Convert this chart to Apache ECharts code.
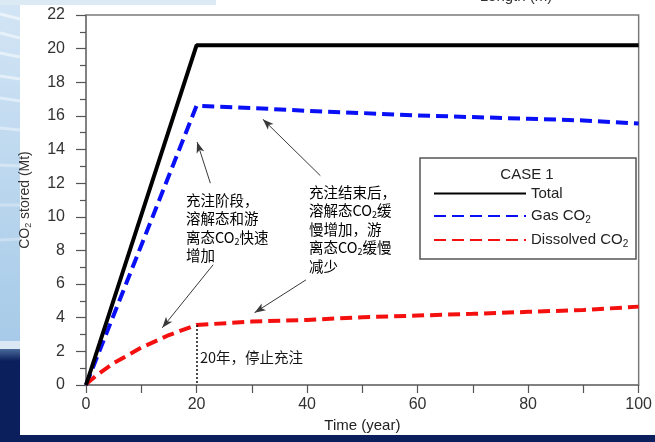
<!DOCTYPE html>
<html>
<head>
<meta charset="utf-8">
<script src="https://cdn.jsdelivr.net/npm/echarts@6/dist/echarts.min.js"></script>
<style>
  html, body { margin: 0; padding: 0; background: #0b1f5c; }
  #chart { width: 655px; height: 442px; }
</style>
</head>
<body>
<div id="chart"></div>
<script>
// CO2 stored in the reservoir over time (CASE 1)
const totalYears = [0, 20, 100];
const totalValues = [0, 20.2, 20.2];

const gasYears = [0, 20, 30, 40, 50, 60, 70, 80, 90, 100];
const gasValues = [0, 16.6, 16.47, 16.3, 16.17, 16.03, 15.93, 15.83, 15.73, 15.55];

const dissolvedYears = [0, 2, 5, 10, 15, 20, 30, 40, 50, 60, 70, 80, 90, 100];
const dissolvedValues = [0.05, 0.6, 1.3, 2.22, 2.97, 3.57, 3.77, 3.87, 4.03, 4.13, 4.23, 4.35, 4.46, 4.66];

const seriesNames = ['Total', 'Gas CO2', 'Dissolved CO2'];

// injection stops at year 20
const stopYear = 20;

// annotation arrows in data units: [fromYear, fromValue, toYear, toValue]
const arrows = [
  [22.5, 12.0, 20.1, 14.45],
  [23.0, 7.15, 13.8, 3.4],
  [42.4, 12.45, 32.0, 15.8],
  [39.8, 6.25, 30.5, 4.3]
];

const pair = (xs, ys) => xs.map((x, i) => [x, ys[i]]);

const dissolvedAtStop = dissolvedValues[dissolvedYears.indexOf(stopYear)];

const arrowLines = arrows.map(a => [
  { coord: [a[0], a[1]], symbol: 'none' },
  { coord: [a[2], a[3]], symbol: 'arrow', symbolSize: [6, 11] }
]);
const stopLine = [
  { coord: [stopYear, dissolvedAtStop], symbol: 'none',
    lineStyle: { type: [2, 2], color: '#111', width: 1.5 } },
  { coord: [stopYear, 0], symbol: 'none' }
];

const subRich = {
  a: { fontSize: 14.5, fontFamily: 'Noto Sans CJK SC', color: '#151515', lineHeight: 18.5 },
  s: { fontSize: 9, fontFamily: 'Noto Sans CJK SC', color: '#151515', lineHeight: 18.5, padding: [8, 0, 0, 0] }
};

const chart = echarts.init(document.getElementById('chart'), null, { renderer: 'canvas' });

chart.setOption({
  animation: false,
  backgroundColor: '#0b1f5c',
  graphic: [
    // slide background strips
    { type: 'rect', z: -10, shape: { x: 0, y: 0, width: 20, height: 345 },
      style: { fill: new echarts.graphic.LinearGradient(0, 0, 0, 1, [
        { offset: 0, color: '#d3e5f5' }, { offset: 1, color: '#a6cae8' }]) } },
    { type: 'rect', z: -10, shape: { x: 0, y: 341, width: 20, height: 9 },
      style: { fill: '#dbe8f3' } },
    { type: 'rect', z: -10, shape: { x: 0, y: 349, width: 20, height: 12 },
      style: { fill: new echarts.graphic.LinearGradient(0, 0, 0, 1, [
        { offset: 0, color: '#4a6a9a' }, { offset: 1, color: '#0b1f5c' }]) } },
    { type: 'rect', z: -10, shape: { x: 0, y: 0, width: 216, height: 5 },
      style: { fill: '#dceaf6' } },
    { type: 'line', z: -9, shape: { x1: 0, y1: 14, x2: 20, y2: 19 }, style: { stroke: 'rgba(255,255,255,0.55)', lineWidth: 3 } },
    { type: 'line', z: -9, shape: { x1: 0, y1: 33, x2: 20, y2: 38 }, style: { stroke: 'rgba(255,255,255,0.5)', lineWidth: 3 } },
    { type: 'line', z: -9, shape: { x1: 0, y1: 53, x2: 20, y2: 57 }, style: { stroke: 'rgba(255,255,255,0.5)', lineWidth: 3 } },
    { type: 'line', z: -9, shape: { x1: 0, y1: 76, x2: 20, y2: 79 }, style: { stroke: 'rgba(255,255,255,0.5)', lineWidth: 3 } },
    { type: 'line', z: -9, shape: { x1: 0, y1: 98, x2: 20, y2: 101 }, style: { stroke: 'rgba(255,255,255,0.45)', lineWidth: 3 } },
    { type: 'line', z: -9, shape: { x1: 0, y1: 128, x2: 20, y2: 130 }, style: { stroke: 'rgba(255,255,255,0.4)', lineWidth: 3 } },
    { type: 'line', z: -9, shape: { x1: 0, y1: 165, x2: 20, y2: 166 }, style: { stroke: 'rgba(255,255,255,0.35)', lineWidth: 3 } },
    { type: 'line', z: -9, shape: { x1: 0, y1: 205, x2: 20, y2: 205 }, style: { stroke: 'rgba(255,255,255,0.3)', lineWidth: 3 } },
    { type: 'line', z: -9, shape: { x1: 0, y1: 240, x2: 20, y2: 239 }, style: { stroke: 'rgba(255,255,255,0.3)', lineWidth: 3 } },
    // white figure panel
    { type: 'rect', z: -8, shape: { x: 20, y: 5, width: 635, height: 430 }, style: { fill: '#ffffff' } },
    { type: 'rect', z: -8, shape: { x: 216, y: 0, width: 439, height: 6 }, style: { fill: '#ffffff' } },
    // axis title of the panel above, cut by the edge
    { type: 'text', z: -7, x: 516, y: 4,
      style: { text: 'Length (m)', font: '15px "Liberation Sans"', fill: '#333', align: 'center', verticalAlign: 'bottom' } },
    // legend frame and title
    { type: 'rect', z: 1, shape: { x: 420, y: 158, width: 216, height: 101 },
      style: { fill: '#fff', stroke: '#555', lineWidth: 1.5 } },
    { type: 'text', z: 2, x: 527, y: 175,
      style: { text: 'CASE 1', font: '15px "Liberation Sans"', fill: '#222', align: 'center', verticalAlign: 'middle' } },
    // annotations
    { type: 'text', z: 2, x: 186, y: 191,
      style: { text: '{a|充注阶段，}\n{a|溶解态和游}\n{a|离态CO}{s|2}{a|快速}\n{a|增加}', rich: subRich } },
    { type: 'text', z: 2, x: 309, y: 183,
      style: { text: '{a|充注结束后，}\n{a|溶解态CO}{s|2}{a|缓}\n{a|慢增加，游}\n{a|离态CO}{s|2}{a|缓慢}\n{a|减少}', rich: subRich } },
    { type: 'text', z: 2, x: 200, y: 350,
      style: { text: '20年，停止充注', font: '14.5px "Noto Sans CJK SC"', fill: '#151515' } }
  ],
  grid: {
    left: 86, right: 13, top: 15, bottom: 57,
    show: true, borderColor: '#7a7a7a', borderWidth: 1.5, backgroundColor: 'transparent'
  },
  legend: {
    orient: 'vertical',
    left: 428, top: 181,
    itemWidth: 92, itemHeight: 12, itemGap: 6,
    z: 5,
    itemStyle: { opacity: 0 },
    data: seriesNames,
    formatter: n => {
      if (n === 'Total') return '{t|Total}';
      if (n === 'Gas CO2') return '{t|Gas CO}{s|2}';
      return '{t|Dissolved CO}{s|2}';
    },
    textStyle: {
      rich: {
        t: { fontSize: 15, fontFamily: 'Liberation Sans', color: '#222', lineHeight: 18 },
        s: { fontSize: 10, fontFamily: 'Liberation Sans', color: '#222', lineHeight: 18, padding: [8, 0, 0, 0] }
      }
    }
  },
  xAxis: {
    type: 'value', min: 0, max: 100, interval: 10,
    name: 'Time (year)', nameLocation: 'middle', nameGap: 31,
    nameTextStyle: { fontSize: 15, fontFamily: 'Liberation Sans', color: '#222' },
    axisLine: { lineStyle: { color: '#7a7a7a', width: 1.5 } },
    axisTick: { length: 8, lineStyle: { color: '#555', width: 1.2 } },
    axisLabel: { fontSize: 16, fontFamily: 'Liberation Sans', color: '#333', margin: 12,
      formatter: v => (v % 20 === 0 ? String(v) : '') },
    splitLine: { show: false }
  },
  yAxis: {
    type: 'value', min: 0, max: 22, interval: 2,
    name: '{a|CO}{s|2}{a| stored (Mt)}', nameLocation: 'middle', nameGap: 53, nameRotate: 90,
    nameTextStyle: { rich: {
      a: { fontSize: 14, fontFamily: 'Liberation Sans', color: '#333' },
      s: { fontSize: 9, fontFamily: 'Liberation Sans', color: '#333', padding: [7, 0, 0, 0] }
    } },
    axisLine: { lineStyle: { color: '#7a7a7a', width: 1.5 } },
    axisTick: { length: 10, lineStyle: { color: '#555', width: 1.2 } },
    minorTick: { show: true, splitNumber: 2, length: 6, lineStyle: { color: '#555', width: 1.2 } },
    axisLabel: { fontSize: 16, fontFamily: 'Liberation Sans', color: '#333', margin: 21 },
    splitLine: { show: false }
  },
  series: [
    {
      name: seriesNames[0], type: 'line', symbol: 'none', z: 4,
      data: pair(totalYears, totalValues),
      lineStyle: { color: '#000', width: 4 },
      itemStyle: { color: '#000' },
      markLine: {
        silent: true, animation: false,
        label: { show: false },
        lineStyle: { color: '#3a3a3a', width: 1, type: 'solid' },
        data: arrowLines.concat([stopLine])
      }
    },
    {
      name: seriesNames[1], type: 'line', symbol: 'none', z: 3,
      data: pair(gasYears, gasValues),
      lineStyle: { color: '#0a10f5', width: 4, type: [12, 6] },
      itemStyle: { color: '#0a10f5' }
    },
    {
      name: seriesNames[2], type: 'line', symbol: 'none', z: 3,
      data: pair(dissolvedYears, dissolvedValues),
      lineStyle: { color: '#f51010', width: 4, type: [12, 6] },
      itemStyle: { color: '#f51010' }
    }
  ]
});
</script>
</body>
</html>
